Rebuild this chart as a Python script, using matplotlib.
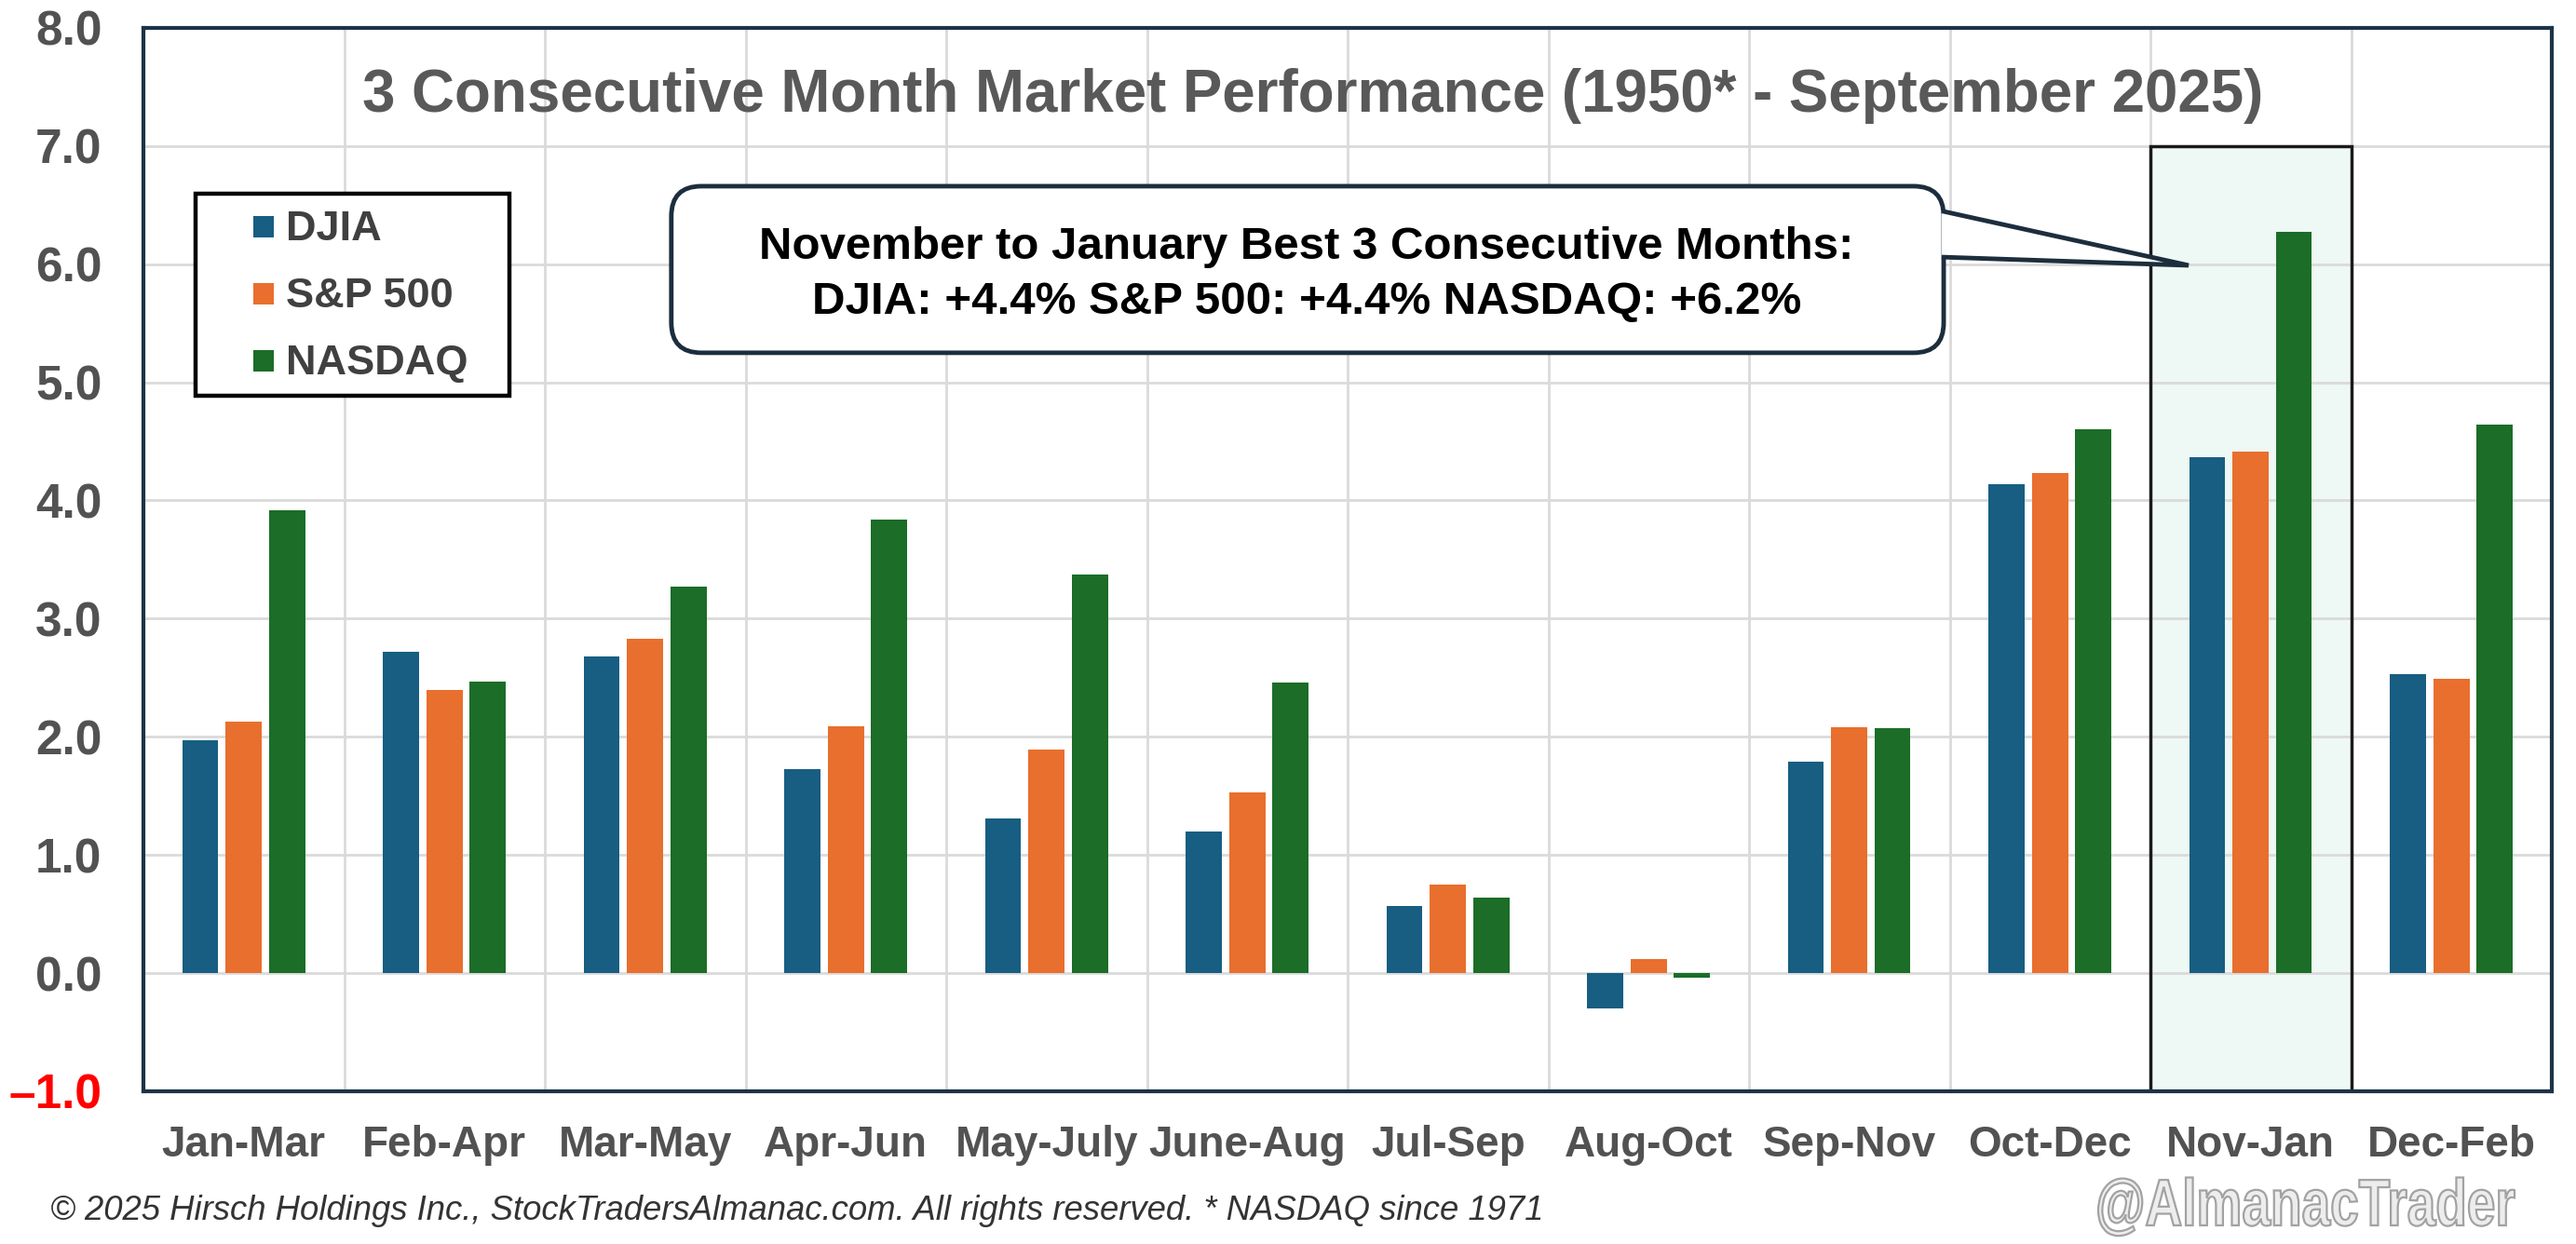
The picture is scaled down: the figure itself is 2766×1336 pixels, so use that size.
import matplotlib
matplotlib.use("Agg")
import matplotlib.pyplot as plt
from matplotlib.patches import Rectangle, FancyBboxPatch, Polygon, PathPatch
from matplotlib.textpath import TextPath
from matplotlib.font_manager import FontProperties
from matplotlib.transforms import Affine2D
import numpy as np

plt.rcParams['font.family'] = ['Liberation Sans', 'DejaVu Sans']

# data (average % change)
periods = ["Jan-Mar", "Feb-Apr", "Mar-May", "Apr-Jun", "May-July", "June-Aug",
           "Jul-Sep", "Aug-Oct", "Sep-Nov", "Oct-Dec", "Nov-Jan", "Dec-Feb"]
djia = [1.97, 2.72, 2.68, 1.73, 1.31, 1.20, 0.57, -0.30, 1.79, 4.14, 4.37, 2.53]
sp500 = [2.13, 2.40, 2.83, 2.09, 1.89, 1.53, 0.75, 0.12, 2.08, 4.23, 4.41, 2.49]
nasdaq = [3.92, 2.47, 3.27, 3.84, 3.37, 2.46, 0.64, -0.04, 2.07, 4.60, 6.27, 4.64]
series_names = ["DJIA", "S&P 500", "NASDAQ"]
colors = ["#175e82", "#e86f2d", "#1b6d27"]
best_idx = 10  # Nov-Jan highlight

W, H = 2766, 1336
fig = plt.figure(figsize=(W / 100, H / 100), dpi=100)
ax = fig.add_axes([0.0557, 0.1228, 0.9349, 0.8548])

x = np.arange(len(periods))
offs = [-0.217, 0.0, 0.215]
for vals, off, c, name in zip([djia, sp500, nasdaq], offs, colors, series_names):
    ax.bar(x + off, vals, 0.18, color=c, label=name, zorder=3)

ax.set_xlim(-0.5, len(periods) - 0.5)
ax.set_ylim(-1.0, 8.0)

# grid: horizontal at integers, vertical at category borders
yt = np.arange(-1, 9, 1)
ax.set_yticks(yt)
ax.set_yticklabels(["%.1f" % v if v >= 0 else "\u20131.0" for v in yt])
ax.set_xticks(x)
ax.set_xticklabels(periods)
ax.set_xticks(np.arange(-0.5, len(periods), 1), minor=True)
ax.grid(axis='y', which='major', color='#dadada', lw=2, zorder=0.5)
ax.grid(axis='x', which='minor', color='#dadada', lw=2, zorder=0.5)
ax.set_axisbelow(True)
ax.tick_params(axis='both', which='both', length=0)
ax.tick_params(axis='y', pad=32, labelsize=37, labelcolor='#525252')
ax.tick_params(axis='x', pad=26, labelsize=33, labelcolor='#525252')
for lab in ax.get_xticklabels() + ax.get_yticklabels():
    lab.set_fontweight('bold')
ax.get_yticklabels()[0].set_color('#ff0000')

for sp in ax.spines.values():
    sp.set_color('#1d3347')
    sp.set_linewidth(3)

# highlighted column
ax.add_patch(Rectangle((best_idx - 0.5, -1.0), 1.0, 8.0, facecolor='#eef8f4',
                       edgecolor='none', zorder=0.2))
ax.add_patch(Rectangle((best_idx - 0.5, -1.0), 1.0, 8.0, fill=False,
                       edgecolor='#1a1a1a', lw=2.5, zorder=2))

# title
fig.text(0.5096, 0.9102, "3 Consecutive Month Market Performance (1950* - September 2025)",
         ha='center', va='baseline', fontsize=45.8, fontweight='bold', color='#595959')

# legend (drawn by hand to match the padding of the original)
ax.add_patch(Rectangle((0.0217, 0.6541), 0.1303, 0.19, transform=ax.transAxes,
                       facecolor='white', edgecolor='black', lw=3.2, zorder=4))
leg_base = [0.8004, 0.7373, 0.6743]
for c, n, yb in zip(colors, series_names, leg_base):
    ax.add_patch(Rectangle((0.0456, yb + 0.0026), 0.0085, 0.0201, transform=ax.transAxes,
                           facecolor=c, edgecolor='none', zorder=5))
    ax.text(0.0592, yb, n, transform=ax.transAxes, ha='left', va='baseline',
            fontsize=32.5, fontweight='bold', color='#404040', zorder=5)

# callout box with pointer
bbox = ax.get_position()
ppx = (12 / (bbox.width * W))
ppy = (9 / (bbox.height * H))
aspect = ppy / ppx
bx0, bx1, by0, by1 = 2.13, 8.47, 5.25, 6.66
box = FancyBboxPatch((bx0, by0), bx1 - bx0, by1 - by0,
                     boxstyle="round,pad=0,rounding_size=0.15", mutation_aspect=aspect,
                     facecolor='white', edgecolor='#1c2e3d', lw=3.5, zorder=5)
ax.add_patch(box)
wedge = Polygon([[bx1 - 0.01, 6.45], [9.69, 5.99], [bx1 - 0.01, 6.06]], closed=False,
                facecolor='white', edgecolor='#1c2e3d', lw=3.5, zorder=6,
                joinstyle='miter')
ax.add_patch(wedge)
fig.text(0.5072, 0.7919, "November to January Best 3 Consecutive Months:",
         ha='center', va='baseline', fontsize=35.5, fontweight='bold', color='#000000',
         zorder=7)
fig.text(0.5072, 0.7478, "DJIA: +4.4% S&P 500: +4.4% NASDAQ: +6.2%",
         ha='center', va='baseline', fontsize=35.5, fontweight='bold', color='#000000',
         zorder=7)

# footer
fig.text(0.0195, 0.0195,
         "\u00a9 2025 Hirsch Holdings Inc., StockTradersAlmanac.com. All rights reserved. * NASDAQ since 1971",
         ha='left', va='baseline', fontsize=26.3, style='italic', color='#333333')

# watermark: condensed outline text, squeezed horizontally
tp = TextPath((0, 0), "@AlmanacTrader", size=71,
              prop=FontProperties(family='Liberation Sans', weight='bold'))
ext = tp.get_extents()
sx = 447 / ext.width
wm_tr = Affine2D().translate(-ext.x0, 0).scale(sx, 1).translate(2253, 20)
fig.patches.append(PathPatch(tp, transform=wm_tr, facecolor='#ededed',
                             edgecolor='#a2a2a2', lw=1.6, figure=fig))

fig.savefig("out.png", dpi=100)
